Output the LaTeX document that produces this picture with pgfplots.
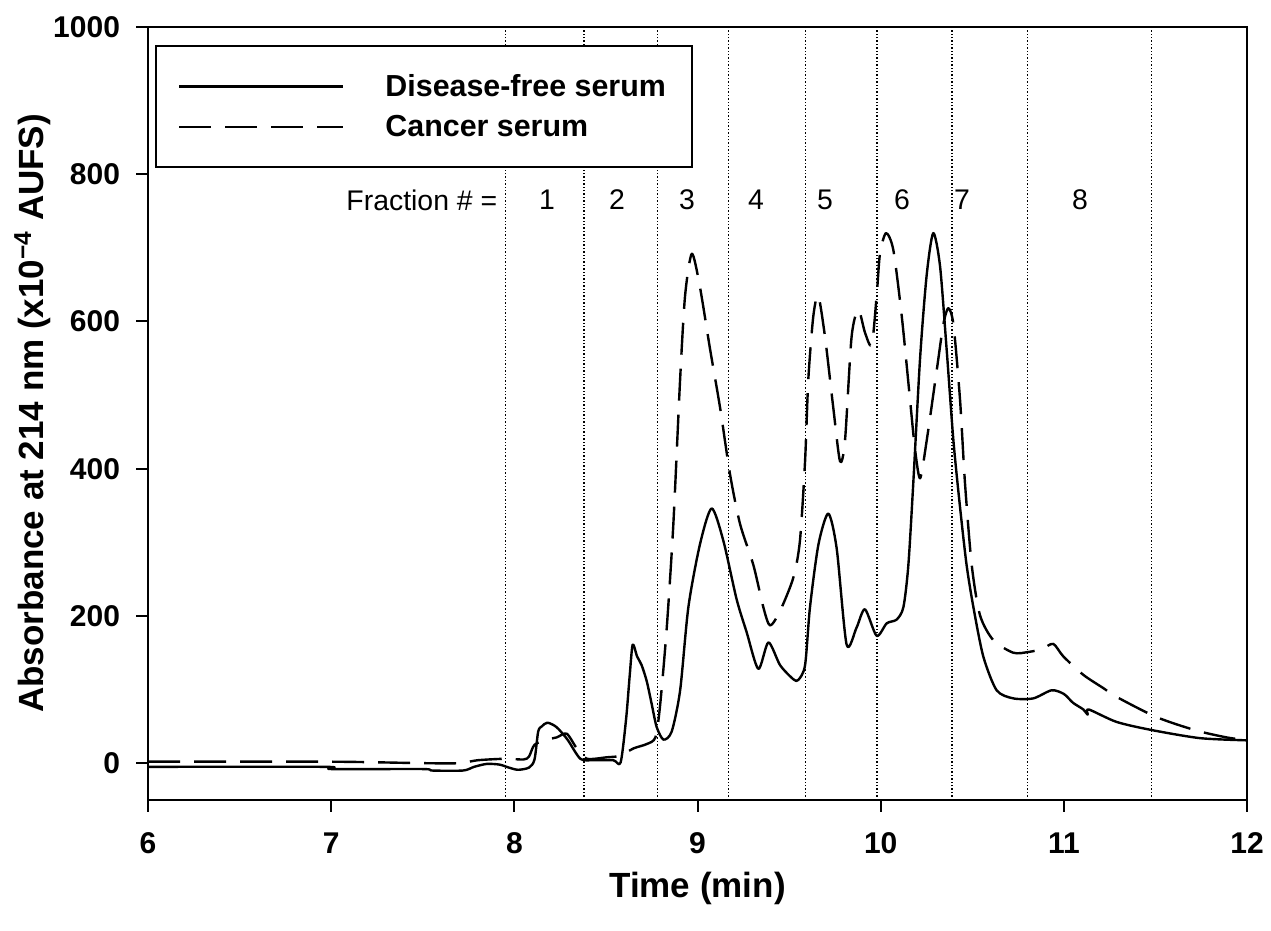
\documentclass[border=0pt]{standalone}
\usepackage{fontspec}
\setmainfont{Liberation Sans}
\usepackage{pgfplots}
\usepackage{pgfplotstable}
\pgfplotsset{compat=1.18}

% disease-free serum trace
\pgfplotstableread{
t a
6.00 -5
6.97 -5
7.00 -8
7.50 -8
7.55 -10
7.72 -10
7.78 -5
7.85 -1
7.92 -2
7.97 -6
8.02 -9
8.08 -6
8.11 5
8.13 43
8.15 50
8.18 55
8.23 49
8.29 32
8.36 6
8.43 4
8.54 4
8.58 1
8.61 60
8.63 120
8.646 161
8.67 145
8.695 133
8.723 111
8.75 80
8.777 49
8.814 32
8.859 43
8.905 99
8.95 212
9.013 297
9.077 346
9.141 302
9.213 223
9.268 178
9.332 128
9.387 164
9.451 133
9.523 114
9.55 113
9.587 133
9.614 212
9.66 297
9.714 339
9.76 291
9.814 161
9.868 184
9.914 209
9.978 173
10.033 190
10.087 195
10.124 212
10.151 269
10.178 381
10.215 550
10.251 663
10.287 720
10.324 675
10.360 562
10.397 438
10.433 348
10.469 269
10.506 212
10.560 145
10.633 99
10.724 88
10.833 88
10.933 99
11.00 94
11.05 82
11.106 73
11.13 66
11.135 73
11.288 56
11.479 45
11.743 34
12.00 31
}\healthy

% cancer serum trace
\pgfplotstableread{
t a
6.00 2
7.00 2
7.50 0
7.70 0
7.80 4
7.95 6
8.05 5
8.08 9
8.11 25
8.177 32
8.231 35
8.286 40
8.341 20
8.396 6
8.505 8
8.577 10
8.650 20
8.723 26
8.77 35
8.795 77
8.832 184
8.868 325
8.905 522
8.932 635
8.969 692
9.013 647
9.068 563
9.123 483
9.177 393
9.232 325
9.305 269
9.359 212
9.396 187
9.451 207
9.523 252
9.559 302
9.587 410
9.605 522
9.632 607
9.659 635
9.696 579
9.741 483
9.778 410
9.805 438
9.841 579
9.878 616
9.914 585
9.951 568
9.978 635
9.996 692
10.029 720
10.069 697
10.115 607
10.160 494
10.187 427
10.215 387
10.251 438
10.306 534
10.342 596
10.369 618
10.397 596
10.433 494
10.460 381
10.497 269
10.542 201
10.615 167
10.724 150
10.806 151
10.88 155
10.942 162
10.997 145
11.106 120
11.215 102
11.288 90
11.479 65.5
11.6 54
11.743 43
11.888 35
12.0 31
}\cancer

\begin{document}
\begin{tikzpicture}
\begin{axis}[
    scale only axis,
    width=549.5pt, height=386.5pt,
    xmin=6, xmax=12, ymin=-50, ymax=1000,
    xtick={6,...,12}, ytick={0,200,...,1000},
    tick align=outside, tick pos=left,
    major tick length=6pt,
    axis line style={line width=1pt},
    every tick/.style={black, line width=1pt},
    ticklabel style={font=\bfseries\fontsize{15}{17}\selectfont},
    xticklabel style={yshift=-7pt},
    yticklabel style={xshift=-4.5pt},
    /pgf/number format/assume math mode=true,
    /pgf/number format/1000 sep={},
    xlabel={Time (min)},
    ylabel={Absorbance at 214 nm (x10\textsuperscript{−4} AUFS)},
    label style={font=\bfseries\fontsize{17.5}{21}\selectfont},
    xlabel style={at={(rel axis cs:0.5,-0.115)}, anchor=center},
    ylabel style={at={(rel axis cs:-0.105,0.5)}, anchor=center},
    extra x ticks={7.95,8.38,8.78,9.17,9.59,9.98,10.39,10.80,11.48},
    extra x tick labels={},
    extra x tick style={grid=major, major tick length=0pt,
        major grid style={black, line width=0.7pt, densely dotted}},
    legend cell align=left,
    legend image code/.code={\draw[#1] (0pt,0pt) -- (82pt,0pt);},
    legend style={at={(rel axis cs:0.0064,0.9767)}, anchor=north west,
        draw=black, line width=1pt, fill=white,
        inner xsep=11pt, inner ysep=12pt, row sep=4pt,
        font=\bfseries\fontsize{15.2}{18}\selectfont,
        /tikz/every odd column/.append style={column sep=18.5pt}},
]
\addplot[black, line width=1.2pt, line join=round, smooth, tension=0.45]
    table[x=t, y=a] {\healthy};
\addlegendentry{Disease-free serum}
\addplot[black, line width=1.2pt, line join=round, smooth, tension=0.45,
    dash pattern=on 16pt off 7pt] table[x=t, y=a] {\cancer};
\addlegendentry{Cancer serum}

\begin{scope}[every node/.style={font=\fontsize{14.2}{17}\selectfont}]
\node[anchor=east] at (axis cs:7.945,765) {Fraction \# =};
\node at (axis cs:8.178,765) {1};
\node at (axis cs:8.561,765) {2};
\node at (axis cs:8.943,765) {3};
\node at (axis cs:9.319,765) {4};
\node at (axis cs:9.696,765) {5};
\node at (axis cs:10.116,765) {6};
\node at (axis cs:10.444,765) {7};
\node at (axis cs:11.088,765) {8};
\end{scope}

\coordinate (bb1) at (rel axis cs:-0.1347,-0.1695);
\coordinate (bb2) at (rel axis cs:1.0218,1.0349);
\end{axis}
\pgfresetboundingbox
\useasboundingbox (bb1) rectangle (bb2);
\end{tikzpicture}
\end{document}
